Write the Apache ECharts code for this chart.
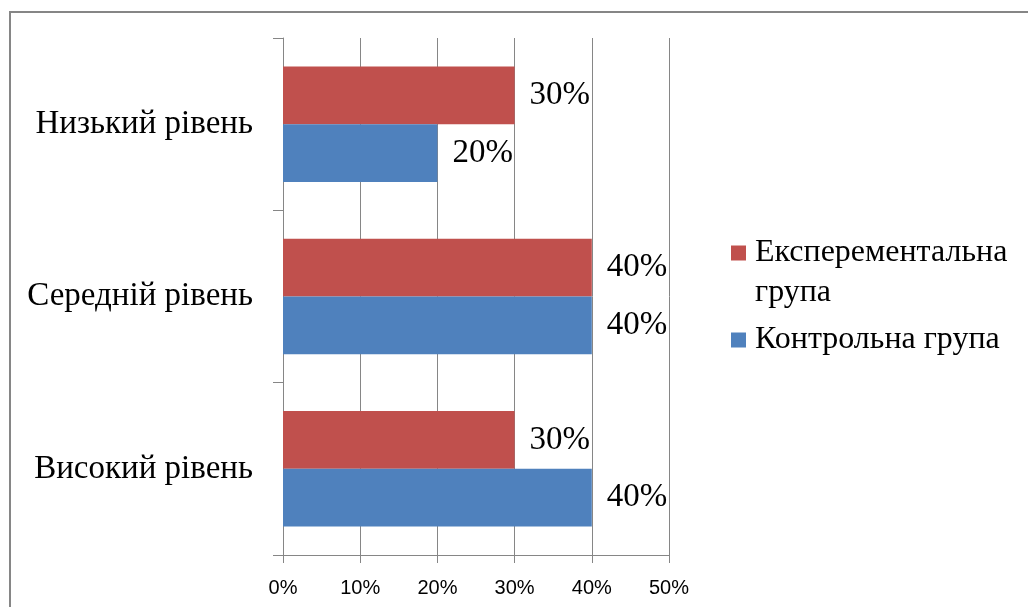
<!DOCTYPE html>
<html>
<head>
<meta charset="utf-8">
<script src="https://cdn.jsdelivr.net/npm/echarts@6/dist/echarts.min.js"></script>
<style>
html,body{margin:0;padding:0;background:#fff;}
#chart{width:1028px;height:607px;}
</style>
</head>
<body>
<div id="chart"></div>
<script>
const categories = ['Високий рівень', 'Середній рівень', 'Низький рівень'];
const controlValues = [40, 40, 20];
const experimentValues = [30, 40, 30];
const seriesNames = ['Контрольна група', 'Експерементальна група'];
const xTicks = [0, 10, 20, 30, 40, 50];

const chart = echarts.init(document.getElementById('chart'));
const serif = 'Liberation Serif, Times New Roman, serif';
const sans = 'Liberation Sans, Arial, sans-serif';
const gridColor = '#868686';

const labelCfg = {
  show: true,
  position: 'right',
  distance: 15,
  formatter: p => p.value + '%',
  color: '#000',
  fontFamily: serif,
  fontSize: 33
};

chart.setOption({
  animation: false,
  graphic: [{
    type: 'rect',
    shape: { x: 10, y: 12, width: 1100, height: 700 },
    style: { fill: 'none', stroke: gridColor, lineWidth: 2 },
    silent: true
  }],
  grid: { left: 283, top: 38, width: 386, height: 517, containLabel: false },
  legend: [{
    data: [seriesNames[1]],
    left: 731, top: 193,
    padding: 0,
    itemWidth: 15, itemHeight: 15,
    icon: 'rect',
    formatter: n => ' \nЕксперементальна\nгрупа',
    textStyle: { fontFamily: serif, fontSize: 32, lineHeight: 40, color: '#000', padding: [0, 0, 0, 4] }
  }, {
    data: [seriesNames[0]],
    left: 731, top: 320,
    padding: 0,
    itemWidth: 15, itemHeight: 15,
    icon: 'rect',
    textStyle: { fontFamily: serif, fontSize: 32, lineHeight: 40, color: '#000', padding: [0, 0, 0, 4] }
  }],
  xAxis: {
    type: 'value',
    min: xTicks[0], max: xTicks[xTicks.length - 1], interval: 10,
    axisLine: { show: true, lineStyle: { color: gridColor, width: 1 } },
    axisTick: { show: true, length: 8, lineStyle: { color: gridColor } },
    splitLine: { show: true, lineStyle: { color: gridColor, width: 1 } },
    axisLabel: { formatter: v => v + '%', color: '#000', fontFamily: sans, fontSize: 20, margin: 23 }
  },
  yAxis: {
    type: 'category',
    data: categories,
    axisLine: { show: true, lineStyle: { color: gridColor, width: 1 } },
    axisTick: { show: true, length: 10, lineStyle: { color: gridColor } },
    axisLabel: { color: '#000', fontFamily: serif, fontSize: 33, margin: 30 }
  },
  series: [{
    name: seriesNames[1],
    type: 'bar',
    data: experimentValues,
    itemStyle: { color: '#C0504D' },
    barGap: '0%',
    barCategoryGap: '33%',
    label: labelCfg
  }, {
    name: seriesNames[0],
    type: 'bar',
    data: controlValues,
    itemStyle: { color: '#4F81BD' },
    barGap: '0%',
    barCategoryGap: '33%',
    label: labelCfg
  }]
});
</script>
</body>
</html>
